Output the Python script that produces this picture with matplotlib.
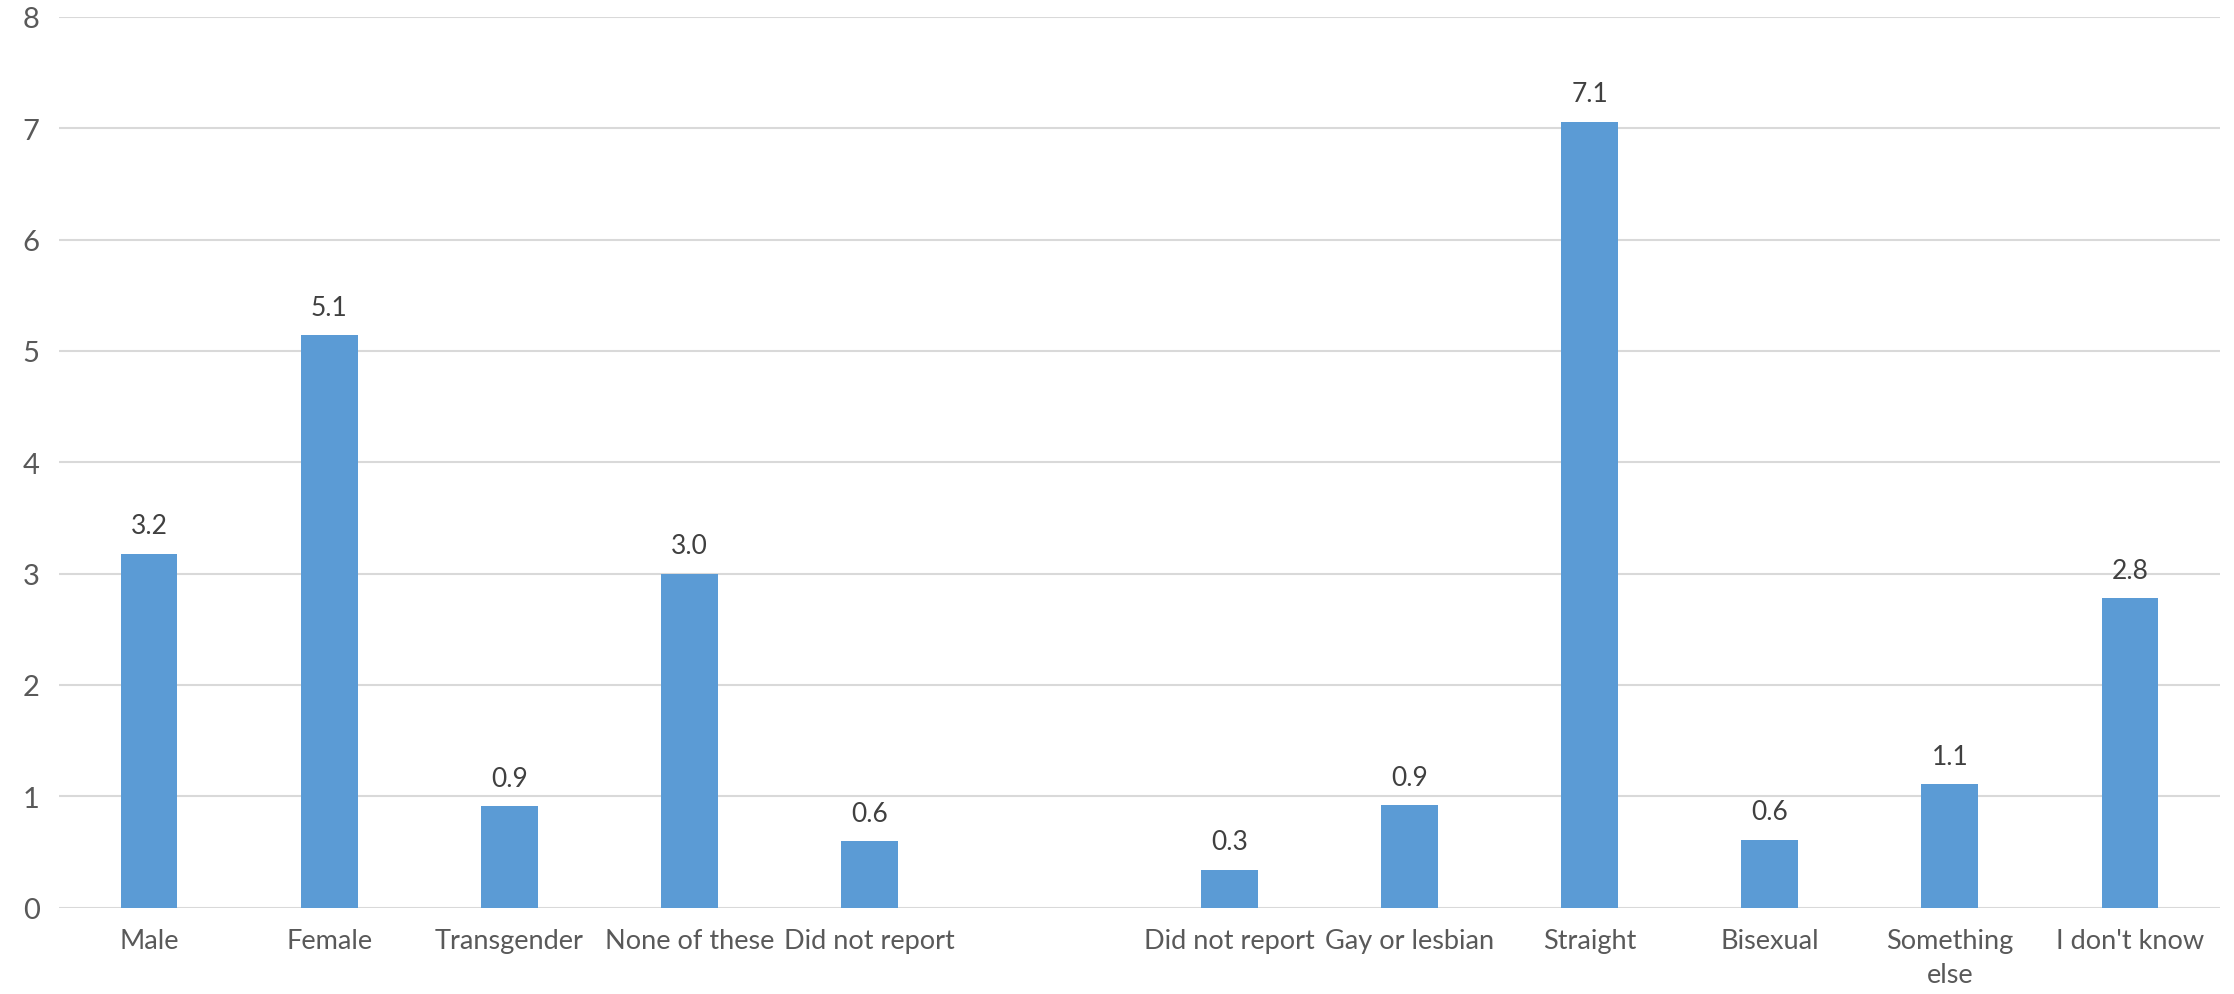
import matplotlib
matplotlib.use("Agg")
import matplotlib.pyplot as plt
import numpy as np

# Gender identity group, a blank spacer slot, then sexual orientation group
categories = ["Male", "Female", "Transgender", "None of these", "Did not report",
              "",
              "Did not report", "Gay or lesbian", "Straight", "Bisexual",
              "Something\nelse", "I don't know"]
values = [3.18, 5.14, 0.91, 3.0, 0.6,
          None,
          0.34, 0.92, 7.06, 0.61, 1.11, 2.78]
y_ticks = [0, 1, 2, 3, 4, 5, 6, 7, 8]

BAR = "#5B9BD5"
GRID = "#D9D9D9"
TICK_TXT = "#595959"
LABEL_TXT = "#404040"

plt.rcParams["font.family"] = ["Lato", "DejaVu Sans"]

fig = plt.figure(figsize=(22.34, 9.95), dpi=100)
ax = fig.add_axes([59 / 2234, 86.4 / 995, (2220 - 59) / 2234, (908.6 - 18) / 995])

x = np.arange(len(categories))
for xi, v in zip(x, values):
    if v is None:
        continue
    ax.bar(xi, v, width=0.316, color=BAR, zorder=3)
    ax.annotate(f"{v:.1f}", xy=(xi, v), xytext=(0, 11), textcoords="offset points",
                ha="center", va="bottom", fontsize=19, color=LABEL_TXT)

ax.set_xlim(-0.5, len(categories) - 0.5)
ax.set_ylim(0, 8)
ax.set_yticks(y_ticks)
ax.set_xticks(x)
ax.set_xticklabels(categories, fontsize=19.5, color=TICK_TXT, linespacing=1.45)
ax.tick_params(axis="y", length=0, pad=14, labelsize=21, labelcolor=TICK_TXT)
ax.tick_params(axis="x", length=0, pad=15)
for lbl in ax.get_xticklabels():
    lbl.set_verticalalignment("top")

ax.grid(axis="y", color=GRID, linewidth=1.5, zorder=0)
ax.set_axisbelow(True)
for s in ax.spines.values():
    s.set_visible(False)

fig.savefig("out.png", dpi=100, facecolor="white")
